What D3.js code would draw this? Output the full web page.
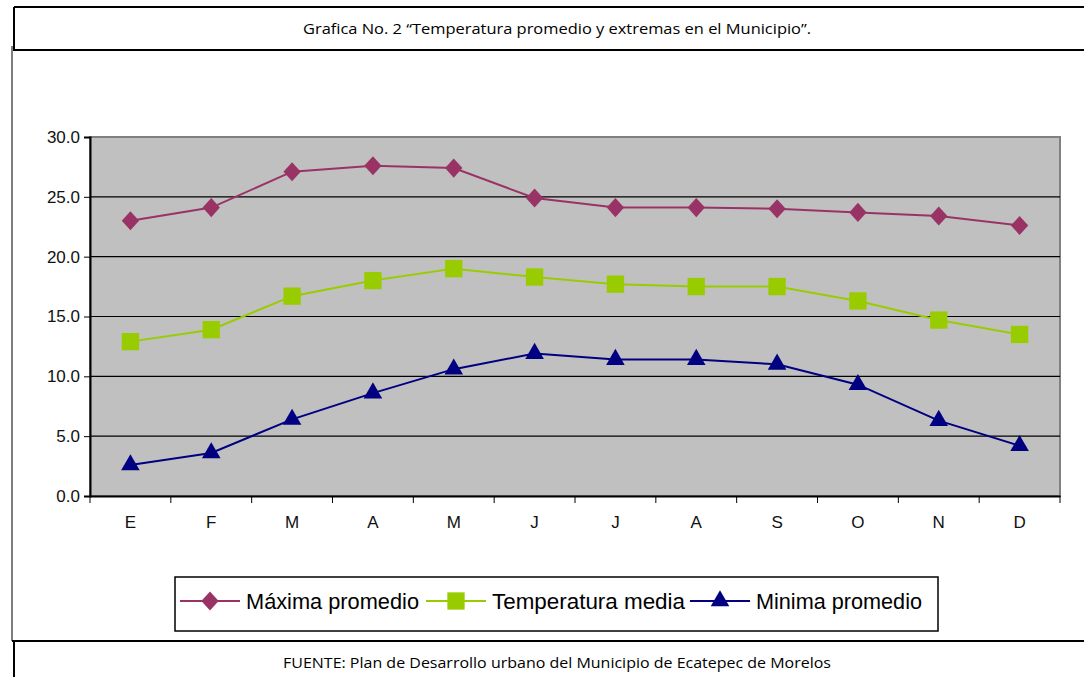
<!DOCTYPE html>
<html>
<head>
<meta charset="utf-8">
<script src="https://cdn.jsdelivr.net/npm/d3@7"></script>
<style>
  body { margin: 0; background: #fff; }
  svg { display: block; }
</style>
</head>
<body>
<div id="chart"></div>
<script>
// data
var months = ["E", "F", "M", "A", "M", "J", "J", "A", "S", "O", "N", "D"];
var maxima = [23.0, 24.1, 27.1, 27.6, 27.4, 24.9, 24.1, 24.1, 24.0, 23.7, 23.4, 22.6];
var media = [12.9, 13.9, 16.7, 18.0, 19.0, 18.3, 17.7, 17.5, 17.5, 16.3, 14.7, 13.5];
var minima = [2.6, 3.6, 6.4, 8.6, 10.6, 11.9, 11.4, 11.4, 11.0, 9.3, 6.3, 4.2];
var yTicks = [0, 5, 10, 15, 20, 25, 30];
var seriesNames = ["Máxima promedio", "Temperatura media", "Minima promedio"];

var w = 1084, h = 677;
var svg = d3.select('#chart').append('svg')
    .attr('width', w)
    .attr('height', h);

// page frame
var frame = svg.append('g').attr('stroke', '#000').attr('fill', 'none');
frame.append('line').attr('x1', 14).attr('y1', 7).attr('x2', w).attr('y2', 7).attr('stroke-width', 2);
frame.append('line').attr('x1', 14).attr('y1', 7).attr('x2', 14).attr('y2', 50).attr('stroke-width', 2);
frame.append('line').attr('x1', 13).attr('y1', 50).attr('x2', w).attr('y2', 50).attr('stroke-width', 2);
frame.append('line').attr('x1', 12).attr('y1', 46).attr('x2', 12).attr('y2', 641).attr('stroke', '#555').attr('stroke-width', 1.5);
frame.append('line').attr('x1', 12).attr('y1', 641).attr('x2', w).attr('y2', 641).attr('stroke-width', 2);
frame.append('line').attr('x1', 14).attr('y1', 641).attr('x2', 14).attr('y2', h).attr('stroke-width', 2);

svg.append('text')
    .attr('x', 557).attr('y', 34)
    .attr('text-anchor', 'middle')
    .style('font-family', 'Open Sans, sans-serif')
    .style('font-size', '15px')
    .attr('textLength', 508)
    .attr('lengthAdjust', 'spacingAndGlyphs')
    .text('Grafica No. 2 \u201cTemperatura promedio y extremas en el Municipio\u201d.');

svg.append('text')
    .attr('x', 557).attr('y', 668)
    .attr('text-anchor', 'middle')
    .style('font-family', 'Open Sans, sans-serif')
    .style('font-size', '15px')
    .attr('textLength', 548)
    .attr('lengthAdjust', 'spacingAndGlyphs')
    .text('FUENTE: Plan de Desarrollo urbano del Municipio de Ecatepec de Morelos');

// plot area
var margin = {top: 137, left: 90};
var innerW = 970, innerH = 359;
var g = svg.append('g')
    .attr('transform', 'translate(' + [margin.left, margin.top] + ')');

var x = d3.scaleBand()
    .domain(d3.range(months.length))
    .range([0, innerW]);
var y = d3.scaleLinear()
    .domain([0, 30])
    .range([innerH, 0]);

g.append('rect')
    .attr('width', innerW).attr('height', innerH)
    .attr('fill', '#c0c0c0')
    .attr('stroke', '#808080')
    .attr('stroke-width', 2);

// gridlines
g.selectAll('line.grid')
    .data(yTicks.slice(1, -1))
  .enter().append('line')
    .attr('class', 'grid')
    .attr('x1', 0).attr('x2', innerW)
    .attr('y1', function(d) { return y(d); })
    .attr('y2', function(d) { return y(d); })
    .attr('stroke', '#000')
    .attr('stroke-width', 1.2);

// axes
var yAxis = d3.axisLeft(y)
    .tickValues(yTicks)
    .tickFormat(d3.format('.1f'))
    .tickSize(6)
    .tickPadding(4);
var ya = g.append('g').call(yAxis);

var xAxis = d3.axisBottom(x)
    .tickSize(0)
    .tickPadding(20)
    .tickFormat(function(i) { return months[i]; });
var xa = g.append('g')
    .attr('transform', 'translate(0,' + innerH + ')')
    .call(xAxis);

// x tick marks between categories
xa.selectAll('line.sep')
    .data(d3.range(months.length + 1))
  .enter().append('line')
    .attr('class', 'sep')
    .attr('x1', function(i) { return i * x.step(); })
    .attr('x2', function(i) { return i * x.step(); })
    .attr('y1', 0).attr('y2', 7)
    .attr('stroke', '#000');

[ya, xa].forEach(function(a) {
  a.select('.domain').attr('stroke', '#000').attr('stroke-width', 2);
  a.selectAll('text')
    .style('font-family', 'Liberation Sans, Arial, sans-serif')
    .style('font-size', '17px')
    .attr('fill', '#111');
});
ya.selectAll('.tick line').attr('stroke', '#000');
xa.selectAll('.tick text').attr('dy', '0.71em');

// series (diamond = square turned 45deg, a bit taller than wide)
var series = [
  {name: seriesNames[0], values: maxima, color: '#993366', shape: d3.symbolSquare, size: 150, rot: 45, sy: 1.1},
  {name: seriesNames[1], values: media, color: '#99cc00', shape: d3.symbolSquare, size: 300, rot: 0, sy: 1},
  {name: seriesNames[2], values: minima, color: '#000080', shape: d3.symbolTriangle, size: 150, rot: 0, sy: 1}
];

var line = d3.line()
    .x(function(d, i) { return x(i) + x.bandwidth() / 2; })
    .y(function(d) { return y(d); });

series.forEach(function(s) {
  g.append('path')
    .datum(s.values)
    .attr('fill', 'none')
    .attr('stroke', s.color)
    .attr('stroke-width', 2)
    .attr('d', line);

  g.selectAll(null)
    .data(s.values)
  .enter().append('path')
    .attr('transform', function(d, i) {
      return 'translate(' + [x(i) + x.bandwidth() / 2, y(d)] + ') scale(1,' + s.sy + ') rotate(' + s.rot + ')';
    })
    .attr('d', d3.symbol().type(s.shape).size(s.size))
    .attr('fill', s.color);
});

// legend
var leg = svg.append('g');
leg.append('rect')
    .attr('x', 175).attr('y', 577)
    .attr('width', 763).attr('height', 54)
    .attr('fill', '#fff')
    .attr('stroke', '#000')
    .attr('stroke-width', 1.5);

var legX = [180, 426, 690];
var legTextW = [173, 193, 166];
series.forEach(function(s, i) {
  var lg = leg.append('g').attr('transform', 'translate(' + [legX[i], 601] + ')');
  lg.append('line')
    .attr('x1', 0).attr('x2', 60)
    .attr('stroke', s.color).attr('stroke-width', 2);
  lg.append('path')
    .attr('transform', 'translate(30,0) scale(1,' + s.sy + ') rotate(' + s.rot + ')')
    .attr('d', d3.symbol().type(s.shape).size(s.size))
    .attr('fill', s.color);
  lg.append('text')
    .attr('x', 66).attr('y', 8)
    .style('font-family', 'Liberation Sans, Arial, sans-serif')
    .style('font-size', '22px')
    .attr('textLength', legTextW[i])
    .attr('lengthAdjust', 'spacingAndGlyphs')
    .text(s.name);
});
</script>
</body>
</html>
